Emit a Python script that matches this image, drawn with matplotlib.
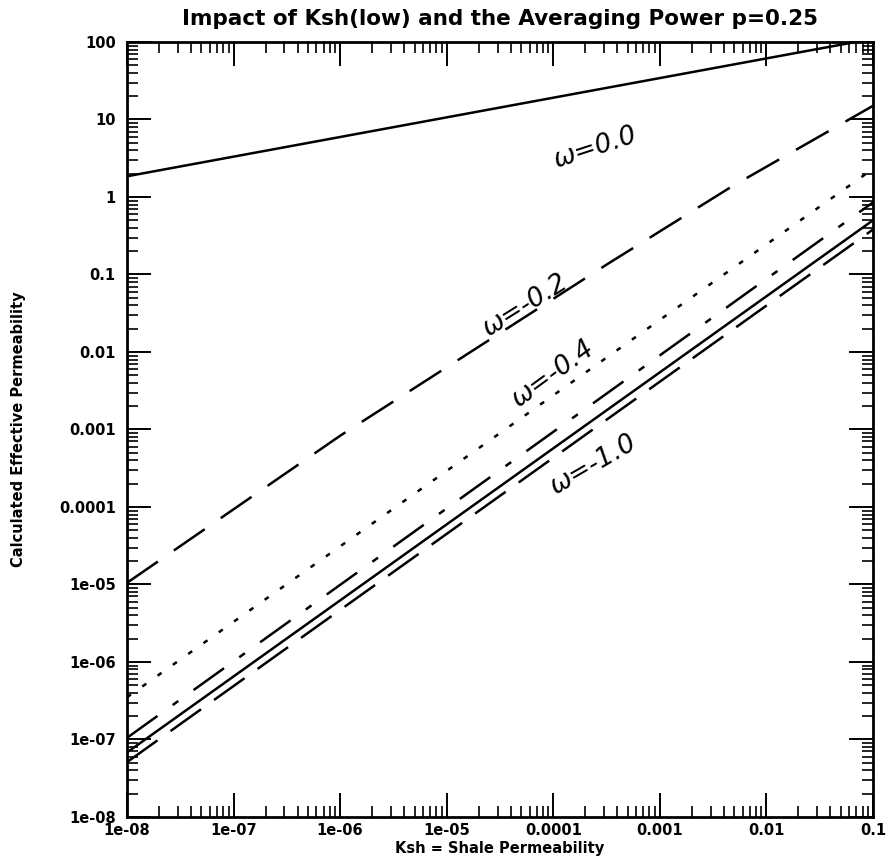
import matplotlib
matplotlib.use('Agg')
import matplotlib.pyplot as plt
from matplotlib.ticker import LogLocator, NullFormatter
import numpy as np

# shale permeability sample points
ksh_line = [1e-8, 0.1]
ksh_w02 = [1e-8, 1e-6, 10 ** -3.5, 10 ** -2.33, 0.1]

# calculated effective permeability for each omega
keff_w00 = [1.85, 110.0]
keff_w02 = [1.05e-5, 8.3e-4, 0.134, 1.35, 15.0]
keff_w04 = [3.5e-7, 2.3]
keff_w06 = [1.05e-7, 0.85]
keff_w08 = [6.8e-8, 0.5]
keff_w10 = [5.1e-8, 0.38]

x_ticks = [1e-8, 1e-7, 1e-6, 1e-5, 1e-4, 1e-3, 1e-2, 1e-1]
x_tick_labels = ['1e-08', '1e-07', '1e-06', '1e-05', '0.0001', '0.001', '0.01', '0.1']
y_ticks = [1e-8, 1e-7, 1e-6, 1e-5, 1e-4, 1e-3, 1e-2, 1e-1, 1, 10, 100]
y_tick_labels = ['1e-08', '1e-07', '1e-06', '1e-05', '0.0001', '0.001', '0.01',
                 '0.1', '1', '10', '100']

plt.rcParams['lines.scale_dashes'] = False

fig = plt.figure(figsize=(8.88, 8.66), dpi=100)
ax = fig.add_axes([0.143, 0.0566, 0.840, 0.8949])

lw = 1.8
ax.plot(ksh_line, keff_w00, color='black', lw=lw)
ax.plot(ksh_w02, keff_w02, color='black', lw=lw, dashes=(27, 14))
ax.plot(ksh_line, keff_w04, color='black', lw=lw, dashes=(3.5, 10))
ax.plot(ksh_line, keff_w06, color='black', lw=lw, dashes=(27, 13.5, 5, 13.5))
ax.plot(ksh_line, keff_w08, color='black', lw=lw)
ax.plot(ksh_line, keff_w10, color='black', lw=lw, dashes=(27, 11.5))

ax.set_xscale('log')
ax.set_yscale('log')
ax.set_xlim(1e-8, 0.1)
ax.set_ylim(1e-8, 100)

ax.set_xticks(x_ticks)
ax.set_xticklabels(x_tick_labels, fontsize=10.5, fontweight='bold')
ax.set_yticks(y_ticks)
ax.set_yticklabels(y_tick_labels, fontsize=10.5, fontweight='bold')
for axis in (ax.xaxis, ax.yaxis):
    axis.set_minor_locator(LogLocator(base=10, subs=np.arange(2, 10), numticks=100))
    axis.set_minor_formatter(NullFormatter())

ax.tick_params(which='both', direction='in', top=True, right=True, color='black')
ax.tick_params(which='major', length=17, width=1.4)
ax.tick_params(which='minor', length=8, width=1.2)
ax.tick_params(axis='y', which='major', pad=8)
ax.tick_params(axis='x', which='major', pad=4)
for s in ax.spines.values():
    s.set_linewidth(2)

ax.set_title('Impact of Ksh(low) and the Averaging Power p=0.25',
             fontsize=15.5, fontweight='bold', pad=12)
ax.set_xlabel('Ksh = Shale Permeability', fontsize=10.5, fontweight='bold')
ax.set_ylabel('Calculated Effective Permeability', fontsize=10.5, fontweight='bold')
ax.xaxis.set_label_coords(0.5, -0.031)
ax.yaxis.set_label_coords(-0.136, 0.5)

# hand-written curve labels
notes = [
    ('ω=0.0', 2.5e-4, 4.3, 18),
    ('ω=-0.2', 5.5e-5, 0.04, 32),
    ('ω=-0.4', 1.0e-4, 5.2e-3, 36),
    ('ω=-1.0', 2.4e-4, 3.5e-4, 30),
]
for txt, xx, yy, rot in notes:
    ax.text(xx, yy, txt, fontsize=19, fontstyle='italic', fontweight='medium',
            rotation=rot, rotation_mode='anchor', ha='center', va='center')

fig.savefig('out.png', dpi=100)
